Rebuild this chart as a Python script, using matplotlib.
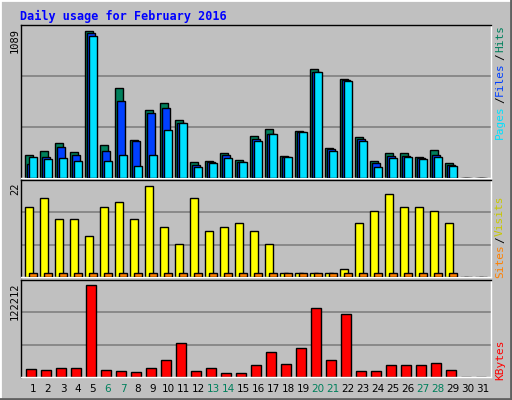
import matplotlib
matplotlib.use("Agg")
import matplotlib.pyplot as plt
from matplotlib.patches import Rectangle

days = list(range(1, 32))
hits = [170, 200, 260, 193, 1089, 245, 667, 280, 504, 556, 430, 118, 126, 185, 133, 311, 363,
        163, 348, 807, 222, 733, 304, 126, 185, 185, 156, 207, 111, 0, 0]
files = [104, 155, 230, 170, 1074, 200, 570, 274, 481, 518, 407, 96, 118, 170, 118, 289, 326,
         155, 341, 785, 215, 726, 289, 111, 163, 163, 148, 170, 96, 0, 0]
pages = [155, 141, 148, 126, 1052, 126, 170, 89, 170, 356, 407, 81, 111, 148, 118, 274, 326,
         155, 341, 785, 200, 718, 274, 81, 148, 155, 141, 155, 89, 0, 0]
visits = [17, 19, 14, 14, 10, 17, 18, 14, 22, 12, 8, 19, 11, 12, 13, 11, 8,
          1, 1, 1, 1, 2, 13, 16, 20, 17, 17, 16, 13, 0, 0]
sites = [1]*29 + [0, 0]
kbytes = [11100, 9770, 12430, 12430, 122212, 9770, 8440, 7100, 12430, 23090, 45730, 8440, 12430,
          5770, 5770, 16430, 33740, 17760, 39070, 91020, 23090, 83030, 8440, 8440, 16430, 16430,
          16430, 19090, 9770, 0, 0]
weekends = [6, 7, 13, 14, 20, 21, 27, 28]
title = "Daily usage for February 2016"

BG = "#C0C0C0"
C_HITS, C_FILES, C_PAGES = "#00805C", "#0040FF", "#00E0FF"
C_VIS, C_SITES, C_KB = "#FFFF00", "#FF8000", "#FF0000"
W, H = 512, 400
fig = plt.figure(figsize=(W/100, H/100), dpi=100, facecolor=BG)
mono = "DejaVu Sans Mono"

# 3D border
fig.patches.append(Rectangle((0, 0), 1, 1, transform=fig.transFigure, fill=False, ec="white", lw=2))
fig.add_artist(plt.Line2D([0, 1], [0.002, 0.002], transform=fig.transFigure, color="#606060", lw=2))
fig.add_artist(plt.Line2D([0.998, 0.998], [0, 1], transform=fig.transFigure, color="#606060", lw=2))

def ax_at(x0, y0, x1, y1):
    return fig.add_axes([x0/W, 1-y1/H, (x1-x0)/W, (y1-y0)/H])

xl = (0.2, 31.53)
def style(ax, ymax):
    ax.set_facecolor(BG)
    ax.set_xlim(*xl)
    ax.set_ylim(0, ymax*1.0)
    ax.set_xticks([]); ax.set_yticks([])
    for s in ax.spines.values():
        s.set_color("black"); s.set_linewidth(1)
    ax.spines["right"].set_color("white"); ax.spines["bottom"].set_color("white")
    for f in (1/3, 2/3):
        ax.axhline(ymax*f, color="#808080", lw=1.2, zorder=0)

ax1 = ax_at(21, 25, 491, 178)
top1 = 1089/0.96
style(ax1, top1)
x = [d for d in days]
ax1.bar([d-0.53 for d in x], hits, width=0.5, align="edge", color=C_HITS, ec="black", lw=1, zorder=2)
ax1.bar([d-0.4 for d in x], files, width=0.5, align="edge", color=C_FILES, ec="black", lw=1, zorder=3)
ax1.bar([d-0.25 for d in x], pages, width=0.5, align="edge", color=C_PAGES, ec="black", lw=1, zorder=4)

ax2 = ax_at(21, 180, 491, 277)
top2 = 22/0.94
style(ax2, top2)
ax2.bar([d-0.53 for d in x], visits, width=0.55, align="edge", color=C_VIS, ec="black", lw=1, zorder=2)
ax2.bar([d-0.25 for d in x], sites, width=0.5, align="edge", color=C_SITES, ec="black", lw=1, zorder=3)

ax3 = ax_at(21, 280, 491, 377)
top3 = 122212/0.95
style(ax3, top3)
ax3.bar([d-0.47 for d in x], kbytes, width=0.7, align="edge", color=C_KB, ec="black", lw=1, zorder=2)

# title
fig.text(20/W, 1-16/H, title, color="#0000FF", fontsize=8.5, fontweight="bold", family=mono, va="center")

# left max labels
for lab, ytop in (("1089", 28), ("22", 182), ("122212", 282)):
    fig.text(15/W, 1-ytop/H, lab, rotation=90, fontsize=7.5, family=mono, ha="center", va="top")

# right labels
def rl(txt, yc, col):
    fig.text(500/W, 1-yc/H, txt, rotation=90, fontsize=8, family=mono, color=col, ha="center", va="center")
rl("Hits", 38, C_HITS); rl("/", 57, "black"); rl("Files", 79, C_FILES); rl("/", 100, "black"); rl("Pages", 122, C_PAGES)
rl("Visits", 216, "#C8C800"); rl("/", 240, "black"); rl("Sites", 261, C_SITES)
rl("KBytes", 360, C_KB)

# day labels
for d in days:
    fig.text((33 + 15*(d-1))/W, 1-389/H, str(d), fontsize=7.5, family="DejaVu Sans",
             color="#00805C" if d in weekends else "black", ha="center", va="center")

fig.savefig("out.png", dpi=100, facecolor=BG)
